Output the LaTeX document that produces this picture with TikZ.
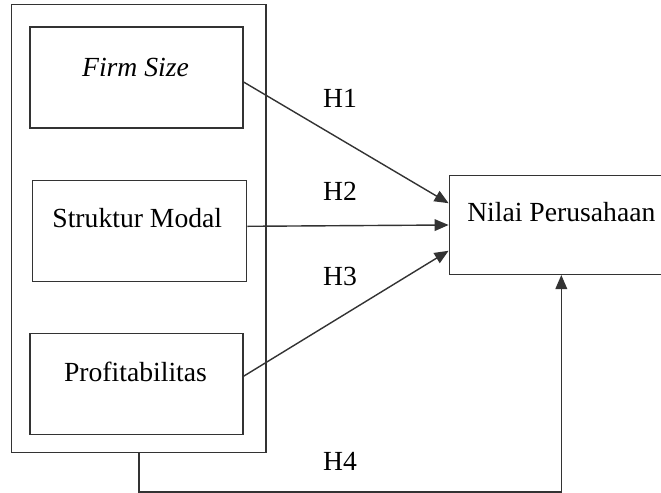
\documentclass[tikz,border=0pt]{standalone}
\usepackage{fontspec}
\setmainfont{Liberation Serif}
\usetikzlibrary{arrows.meta}
\definecolor{ink}{gray}{0.2}
\tikzset{
  var/.style={draw=ink,line width=0.6pt,inner sep=0pt,minimum width=3.2cm,minimum height=1.52cm},
  txt/.style={font=\fontsize{11.8}{14}\selectfont,inner sep=1pt},
  link/.style={draw=ink,line width=0.6pt,-{Triangle[length=6pt,width=5pt]}}
}
\begin{document}
\begin{tikzpicture}[line cap=butt,line join=miter,x=0.015cm,y=0.015cm]
\useasboundingbox (0,0) rectangle (661,493);
\node[draw=ink,line width=0.6pt,inner sep=0pt,minimum width=3.815cm,minimum height=6.723cm] (outer) at (138.9,264.4) {};
\node[var] (firm) at (136.5,415.5) {};
\node[var,minimum width=3.216cm] (struktur) at (139.5,262) {};
\node[var,minimum height=1.515cm] (profit) at (136.5,109.2) {};
\node[var,minimum width=3.36cm,minimum height=1.479cm] (nilai) at (561.3,268) {};
\node[txt] (firmtxt) at (135.5,426) {\itshape Firm Size};
\node[txt] (strukturtxt) at (137.3,275) {Struktur Modal};
\node[txt] (profittxt) at (135.5,121) {Profitabilitas};
\node[txt] (nilaitxt) at (561.3,281.3) {Nilai Perusahaan};
\node[txt] (h1) at (340,395) {H1};
\node[txt] (h2) at (340,302) {H2};
\node[txt] (h3) at (340,216.3) {H3};
\node[txt] (h4) at (340,31.3) {H4};
\draw[link] ([yshift=-2pt]firm.east) -- ([yshift=9.3pt]nilai.west);
\draw[link] ([yshift=2pt]struktur.east) -- (nilai.west);
\draw[link] ([yshift=3.3pt]profit.east) -- ([yshift=-11pt]nilai.west);
\draw[link] (outer.south) -- ++(0,-38.5) -| (nilai.south);
\end{tikzpicture}
\end{document}
